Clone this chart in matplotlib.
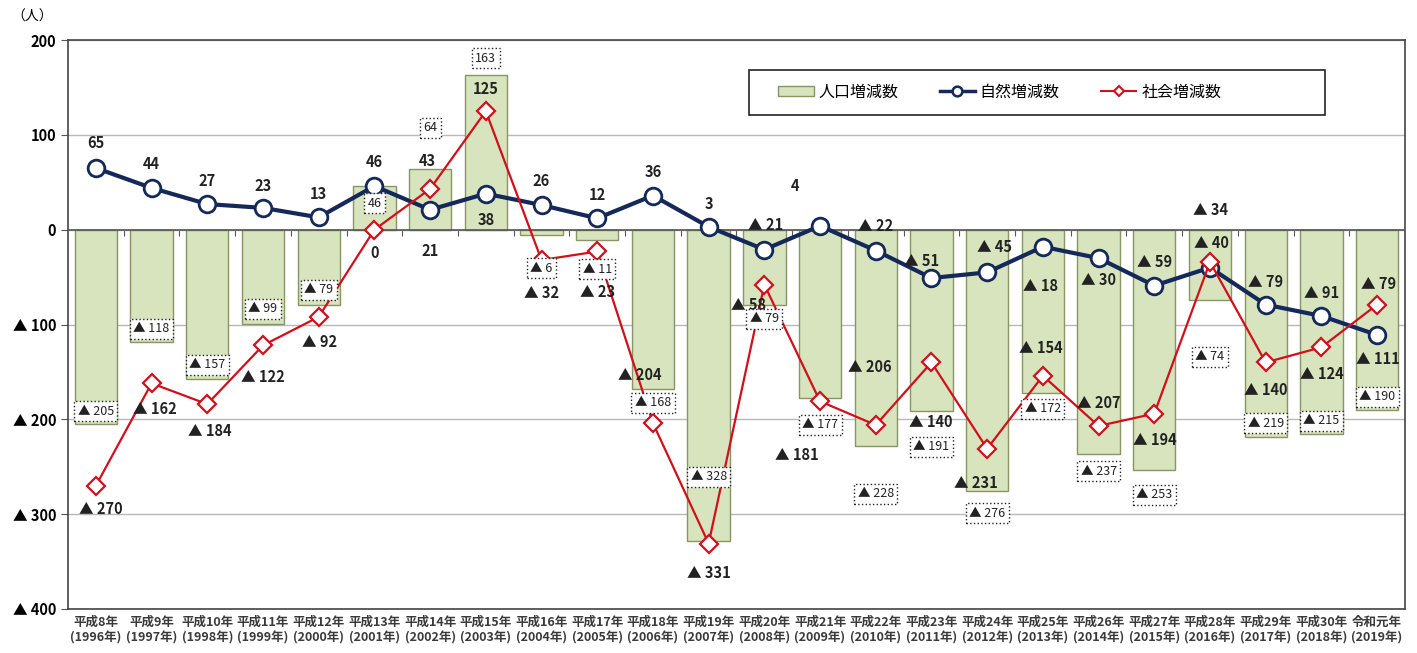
import matplotlib.pyplot as plt
from matplotlib.lines import Line2D
from matplotlib.patches import Patch, Rectangle
import numpy as np

plt.rcParams['font.family'] = ['Noto Sans CJK JP', 'DejaVu Sans']

# data (人)
years = ['平成8年\n(1996年)', '平成9年\n(1997年)', '平成10年\n(1998年)', '平成11年\n(1999年)',
         '平成12年\n(2000年)', '平成13年\n(2001年)', '平成14年\n(2002年)', '平成15年\n(2003年)',
         '平成16年\n(2004年)', '平成17年\n(2005年)', '平成18年\n(2006年)', '平成19年\n(2007年)',
         '平成20年\n(2008年)', '平成21年\n(2009年)', '平成22年\n(2010年)', '平成23年\n(2011年)',
         '平成24年\n(2012年)', '平成25年\n(2013年)', '平成26年\n(2014年)', '平成27年\n(2015年)',
         '平成28年\n(2016年)', '平成29年\n(2017年)', '平成30年\n(2018年)', '令和元年\n(2019年)']
population = [-205, -118, -157, -99, -79, 46, 64, 163, -6, -11, -168, -328,
              -79, -177, -228, -191, -276, -172, -237, -253, -74, -219, -215, -190]
natural = [65, 44, 27, 23, 13, 46, 21, 38, 26, 12, 36, 3,
           -21, 4, -22, -51, -45, -18, -30, -59, -40, -79, -91, -111]
social = [-270, -162, -184, -122, -92, 0, 43, 125, -32, -23, -204, -331,
          -58, -181, -206, -140, -231, -154, -207, -194, -34, -140, -124, -79]

# label offsets in pixels (dx, dy up)
nat_off = [(0, 25), (0, 24), (0, 23), (0, 22), (0, 23), (0, 24), (0, -41), (0, -26),
           (0, 24), (0, 23), (0, 24), (0, 23), (1, 25), (-25, 40), (0, 25), (-10, 17),
           (7, 25), (-2, -39), (0, -22), (0, 24), (1, 25), (0, 23), (0, 23), (1, -24)]
soc_off = [(5, -23), (3, -26), (2, -27), (0, -32), (1, -25), (0, -23), (-3, 28), (0, 22),
           (0, -33), (0, -41), (-13, 48), (0, -29), (-16, -20), (-23, -54), (-6, 58), (-1, -60),
           (-11, -34), (-2, 28), (0, 23), (1, -26), (1, 52), (0, -28), (0, -27), (1, 21)]
pop_off = [(0, 13), (0, 13), (0, 14), (0, 15), (0, 15), (0, -17), (0, 41), (0, 17),
           (0, -33), (0, -29), (0, -14), (0, 64), (0, -14), (0, -27), (0, -48), (0, -36),
           (0, -22), (0, -16), (0, -17), (0, -25), (0, -57), (0, 14), (0, 13), (0, 13)]

BAR_FC, BAR_EC = '#d7e4bd', '#8a9566'
NAVY, RED = '#14285a', '#d0101c'


def fmt(v):
    return f'▲ {abs(v)}' if v < 0 else str(v)


x = np.arange(len(years))

fig = plt.figure(figsize=(14.17, 6.53), dpi=100)
ax = fig.add_axes([0.048, 0.0674, 0.9435, 0.8713])

ax.bar(x, population, width=0.76, color=BAR_FC, edgecolor=BAR_EC, linewidth=1, zorder=2)
ax.plot(x, natural, color=NAVY, linewidth=3, marker='o', markersize=12,
        markerfacecolor='white', markeredgecolor=NAVY, markeredgewidth=2, zorder=4)
ax.plot(x, social, color=RED, linewidth=1.6, marker='D', markersize=9,
        markerfacecolor='white', markeredgecolor=RED, markeredgewidth=1.6, zorder=5)

for i in range(len(x)):
    ax.annotate(fmt(natural[i]), (x[i], natural[i]), xytext=nat_off[i], textcoords='offset pixels',
                ha='center', va='center', fontsize=10.5, fontweight='bold', color='#222222', zorder=6)
    ax.annotate(fmt(social[i]), (x[i], social[i]), xytext=soc_off[i], textcoords='offset pixels',
                ha='center', va='center', fontsize=10.5, fontweight='bold', color='#222222', zorder=6)
    ax.annotate(fmt(population[i]), (x[i], population[i]), xytext=pop_off[i], textcoords='offset pixels',
                ha='center', va='center', fontsize=9, color='#222222', zorder=6,
                bbox=dict(boxstyle='square,pad=0.28', fc='white', ec='#222222', ls=':', lw=1))

ax.set_xlim(-0.5, len(x) - 0.5)
ax.set_ylim(-400, 200)
ax.set_yticks([200, 100, 0, -100, -200, -300, -400])
ax.set_yticklabels([fmt(v) for v in [200, 100, 0, -100, -200, -300, -400]],
                   fontsize=10.5, fontweight='bold')
ax.set_xticks(x)
ax.set_xticklabels(years, fontsize=9, fontweight='bold', color='#3a3a3a', linespacing=1.25)
ax.tick_params(axis='x', length=0, pad=5)
ax.tick_params(axis='y', length=5, color='#555555')

ax.grid(axis='y', color='#b8b8b8', linewidth=1, zorder=0)
ax.set_axisbelow(True)
ax.axhline(0, color='#555555', linewidth=1.2, zorder=3)
for s in ax.spines.values():
    s.set_color('#444444')
    s.set_linewidth(1.2)

# small category ticks on the zero line
sec = ax.secondary_xaxis(2 / 3)
sec.set_xticks(x[:-1] + 0.5)
sec.set_xticklabels([])
sec.tick_params(direction='in', length=4, color='#555555')
sec.spines['top'].set_visible(False)
sec.spines['bottom'].set_visible(False)

# legend: frame drawn separately, entries centred inside
ax.add_patch(Rectangle((0.509, 0.868), 0.431, 0.079, transform=ax.transAxes, fill=True,
                       fc='white', ec='#222222', lw=1.2, zorder=7))
handles = [Patch(fc=BAR_FC, ec=BAR_EC, lw=1),
           Line2D([], [], color=NAVY, lw=2.5, marker='o', markersize=7, mfc='white', mec=NAVY, mew=1.8),
           Line2D([], [], color=RED, lw=1.5, marker='D', markersize=5, mfc='white', mec=RED, mew=1.5)]
leg = ax.legend(handles, ['人口増減数', '自然増減数', '社会増減数'], loc='center',
                bbox_to_anchor=(0.697, 0.9086), ncol=3, frameon=False, fontsize=11.5,
                handlelength=2.2, handleheight=0.6, handletextpad=0.3, columnspacing=2.6)
leg.set_zorder(8)

fig.text(0.008, 0.975, '（人）', fontsize=10, va='center', ha='left')

fig.savefig('out.png', dpi=100)
